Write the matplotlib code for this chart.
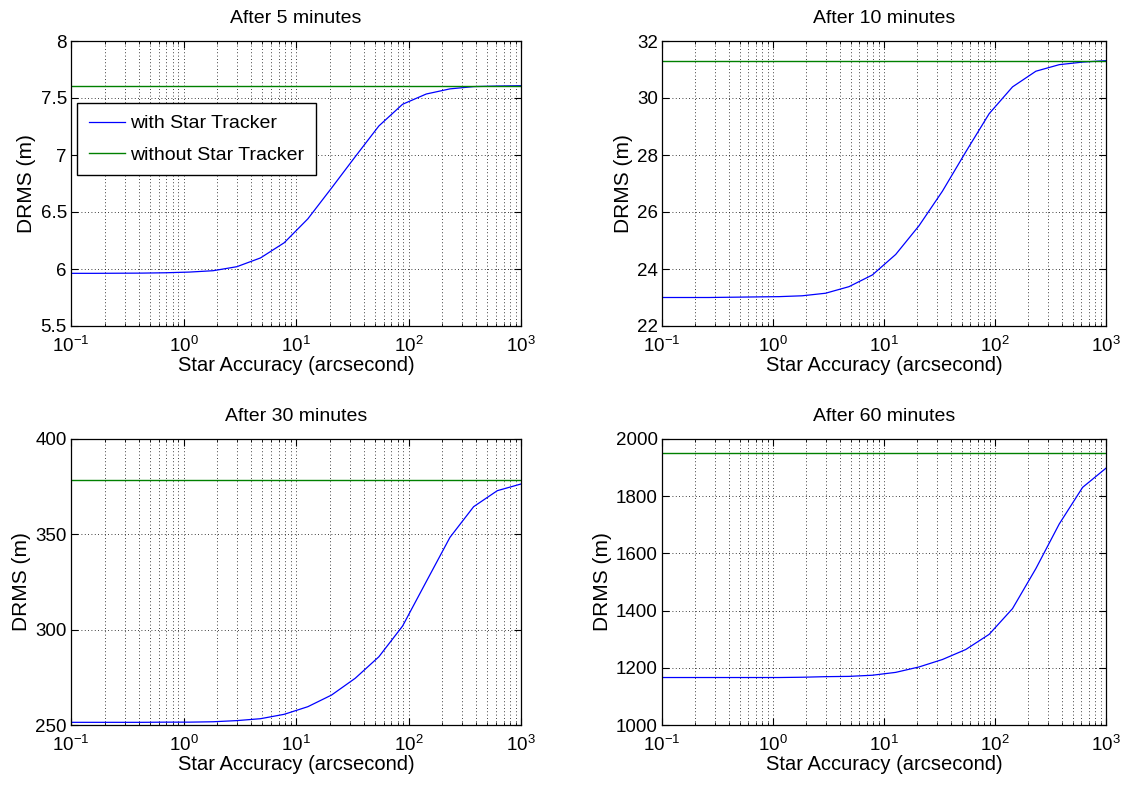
import numpy as np
import matplotlib
matplotlib.use('Agg')
import matplotlib.pyplot as plt
from matplotlib.ticker import LogLocator, NullFormatter

plt.rcParams['font.family'] = ['Liberation Sans', 'DejaVu Sans']
plt.rcParams['mathtext.fontset'] = 'custom'
plt.rcParams['mathtext.rm'] = 'Liberation Sans'
plt.rcParams['mathtext.it'] = 'Liberation Sans'

# star accuracy (arcsecond), 20 log-spaced samples
star_acc = [0.1, 0.1624, 0.2637, 0.4281, 0.6952, 1.1288, 1.833, 2.9764, 4.8329,
            7.8476, 12.743, 20.691, 33.598, 54.556, 88.587, 143.84, 233.57,
            379.27, 615.85, 1000.0]

# DRMS with star tracker
drms_5 = [5.962, 5.962, 5.963, 5.964, 5.967, 5.973, 5.985, 6.02, 6.097, 6.23,
          6.44, 6.71, 6.985, 7.255, 7.445, 7.535, 7.58, 7.60, 7.605, 7.608]
drms_10 = [23.0, 23.0, 23.0, 23.01, 23.02, 23.03, 23.06, 23.15, 23.38, 23.79,
           24.51, 25.52, 26.73, 28.11, 29.45, 30.39, 30.94, 31.17, 31.26, 31.31]
drms_30 = [251.4, 251.4, 251.4, 251.4, 251.5, 251.5, 251.7, 252.3, 253.3, 255.6,
           259.6, 265.7, 274.5, 285.8, 301.9, 325.2, 348.4, 364.5, 372.9, 376.4]
drms_60 = [1166, 1166, 1166, 1166, 1166, 1166, 1167, 1169, 1170, 1174,
           1184, 1203, 1229, 1264, 1317, 1407, 1547, 1703, 1831, 1898]

# DRMS without star tracker (constant)
no_tracker = [7.608, 31.31, 378.7, 1952]

titles = ['After 5 minutes', 'After 10 minutes', 'After 30 minutes', 'After 60 minutes']
ylims = [(5.5, 8), (22, 32), (250, 400), (1000, 2000)]
yticks = [[5.5, 6, 6.5, 7, 7.5, 8], [22, 24, 26, 28, 30, 32],
          [250, 300, 350, 400], [1000, 1200, 1400, 1600, 1800, 2000]]
ytick_labels = [['5.5', '6', '6.5', '7', '7.5', '8'], None, None, None]
series = [drms_5, drms_10, drms_30, drms_60]

# axes rectangles in figure pixels: left, top, right, bottom
W, H = 1132, 790
boxes = [(71, 41, 521, 326), (662, 41, 1106, 326),
         (71, 439, 521, 725), (662, 439, 1106, 725)]

fig = plt.figure(figsize=(W / 100, H / 100), dpi=100)

for i in range(4):
    l, t, r, b = boxes[i]
    ax = fig.add_axes([l / W, 1 - b / H, (r - l) / W, (b - t) / H])
    ax.semilogx(star_acc, series[i], color=(0, 0, 1), lw=0.9, label='with Star Tracker')
    ax.axhline(no_tracker[i], color=(0, 0.5, 0), lw=1.0, label='without Star Tracker')
    ax.set_xlim(0.1, 1000)
    ax.set_ylim(*ylims[i])
    ax.set_yticks(yticks[i])
    if ytick_labels[i]:
        ax.set_yticklabels(ytick_labels[i])
    ax.xaxis.set_major_locator(LogLocator(base=10, numticks=10))
    ax.xaxis.set_minor_locator(LogLocator(base=10, subs=np.arange(2, 10), numticks=20))
    ax.xaxis.set_minor_formatter(NullFormatter())
    ax.grid(which='major', color='black', linestyle=(0, (1, 3)), lw=0.6)
    ax.grid(which='minor', axis='x', color='black', linestyle=(0, (1, 3)), lw=0.6)
    ax.tick_params(which='both', direction='in', top=True, right=True,
                   labelsize=13.5)
    ax.tick_params(axis='x', pad=7)
    ax.tick_params(axis='y', pad=3)
    ax.tick_params(which='major', length=5)
    ax.tick_params(which='minor', length=2.5)
    for s in ax.spines.values():
        s.set_linewidth(0.9)
    ax.set_title(titles[i], fontsize=14, pad=13)
    ax.set_xlabel('Star Accuracy (arcsecond)', fontsize=14.5, labelpad=0)
    ax.set_ylabel('DRMS (m)', fontsize=15, labelpad=3)
    if i == 0:
        leg = ax.legend(loc='upper left', bbox_to_anchor=(0.013, 0.782), fontsize=14,
                        fancybox=False, edgecolor='black', framealpha=1,
                        borderaxespad=0, handlelength=1.9, handletextpad=0.25,
                        borderpad=0.6, labelspacing=0.7)
        leg.get_frame().set_linewidth(1.0)

fig.savefig('out.png', dpi=100)
